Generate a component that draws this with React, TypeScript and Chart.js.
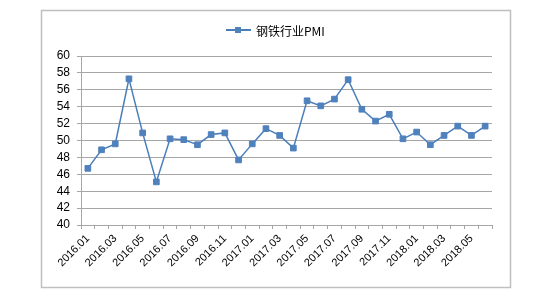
import React, { useEffect, useRef } from "react";
import { Chart, registerables } from "chart.js";

Chart.register(...registerables);

const seriesName = "钢铁行业PMI";
const months = [
  "2016.01", "2016.02", "2016.03", "2016.04", "2016.05", "2016.06",
  "2016.07", "2016.08", "2016.09", "2016.10", "2016.11", "2016.12",
  "2017.01", "2017.02", "2017.03", "2017.04", "2017.05", "2017.06",
  "2017.07", "2017.08", "2017.09", "2017.10", "2017.11", "2017.12",
  "2018.01", "2018.02", "2018.03", "2018.04", "2018.05", "2018.06",
];
const pmi = [
  46.7, 48.9, 49.6, 57.3, 50.9, 45.1,
  50.2, 50.1, 49.5, 50.7, 50.9, 47.7,
  49.6, 51.4, 50.6, 49.1, 54.7, 54.1,
  54.9, 57.2, 53.7, 52.3, 53.1, 50.2,
  51.0, 49.5, 50.6, 51.7, 50.6, 51.7,
];
const yMin = 40;
const yMax = 60;
const yStep = 2;

const LINE = "#4a7ebb";
const MARK = "#4f81bd";
const GRID = "#a6a6a6";
const FONT = "'Liberation Sans', Arial, sans-serif";

const framePlugin = {
  id: "frame",
  beforeDraw(chart: any) {
    const ctx = chart.ctx;
    ctx.save();
    ctx.strokeStyle = "#bfbfbf";
    ctx.lineWidth = 1.5;
    ctx.strokeRect(41.5, 10.5, 469, 277);
    ctx.restore();
  },
  afterDraw(chart: any) {
    const ctx = chart.ctx;
    const y = 30;
    ctx.save();
    ctx.strokeStyle = LINE;
    ctx.lineWidth = 2;
    ctx.beginPath();
    ctx.moveTo(226, y);
    ctx.lineTo(251, y);
    ctx.stroke();
    ctx.fillStyle = MARK;
    ctx.fillRect(235, y - 3, 6, 6);
    ctx.fillStyle = "#000";
    ctx.font = "12px 'Noto Sans CJK SC', sans-serif";
    ctx.textBaseline = "middle";
    ctx.textAlign = "left";
    ctx.fillText(chart.data.datasets[0].label, 256, y + 1);
    ctx.restore();
  },
};

export default function App() {
  const ref = useRef<HTMLCanvasElement>(null);
  useEffect(() => {
    if (!ref.current) return;
    const chart = new Chart(ref.current, {
      type: "line",
      data: {
        labels: months,
        datasets: [
          {
            label: seriesName,
            data: pmi,
            borderColor: LINE,
            borderWidth: 1.5,
            backgroundColor: MARK,
            pointStyle: "rect",
            pointRadius: 4,
            pointBorderWidth: 1,
            pointBorderColor: MARK,
            pointBackgroundColor: MARK,
            tension: 0,
          },
        ],
      },
      options: {
        animation: false,
        responsive: false,
        maintainAspectRatio: false,
        layout: { padding: { left: 41, right: 42, top: 56, bottom: 20 } },
        plugins: { legend: { display: false }, tooltip: { enabled: false } },
        scales: {
          x: {
            type: "category",
            offset: true,
            grid: {
              offset: true,
              drawOnChartArea: false,
              drawTicks: true,
              tickLength: 4,
              color: GRID,
            },
            border: { display: true, color: GRID, width: 1 },
            ticks: {
              autoSkip: false,
              maxRotation: 45,
              minRotation: 45,
              padding: 3,
              color: "#000",
              font: { family: FONT, size: 11 },
              callback: (v: any, i: number) => (i % 2 === 0 ? months[i] : ""),
            },
            afterFit: (s: any) => {
              s.height = 62;
            },
          },
          y: {
            min: yMin,
            max: yMax,
            grid: { color: GRID, tickLength: 4, lineWidth: 1 },
            border: { display: true, color: GRID, width: 1 },
            ticks: {
              stepSize: yStep,
              autoSkip: false,
              padding: 7,
              color: "#000",
              font: { family: FONT, size: 12 },
            },
            afterFit: (s: any) => {
              s.width = 40;
            },
          },
        },
      },
      plugins: [framePlugin],
    });
    return () => chart.destroy();
  }, []);
  return (
    <div style={{ position: "fixed", left: 0, top: 0, width: 534, height: 307, background: "#fff" }}>
      <canvas ref={ref} width={534} height={307} style={{ display: "block" }} />
    </div>
  );
}
